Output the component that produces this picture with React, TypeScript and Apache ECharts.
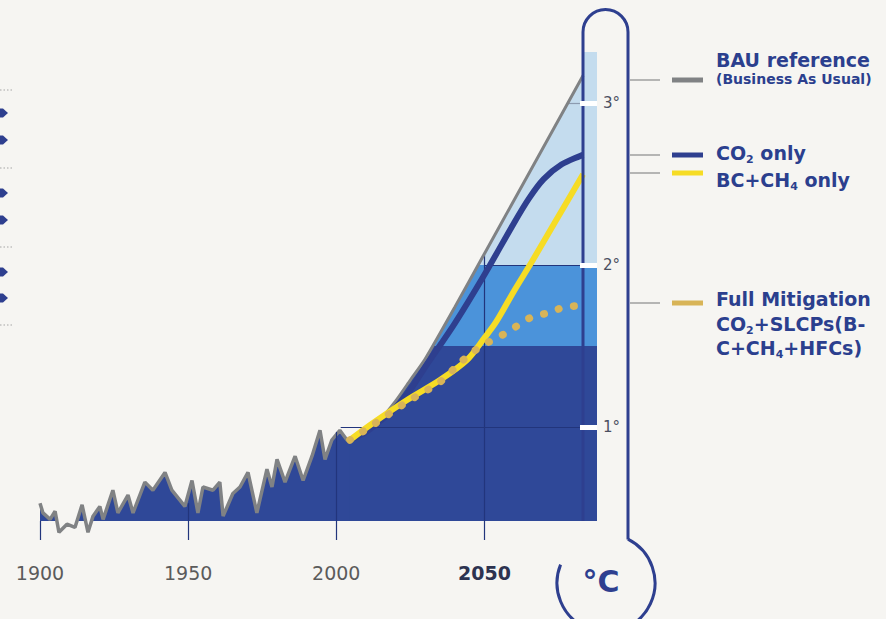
import React, { useEffect, useRef } from "react";
import * as echarts from "echarts";

// ---------- data ----------
const xTickYears = [1900, 1950, 2000, 2050];
const degreeTicks = [1, 2, 3];

const historical: [number, number][] = [
  [1900, 0.53], [1901, 0.47], [1903.4, 0.43], [1905.1, 0.48], [1906.4, 0.35],
  [1909.1, 0.4], [1911.8, 0.38], [1914.2, 0.52], [1916.2, 0.35], [1917.9, 0.45],
  [1920.2, 0.51], [1921.3, 0.43], [1924.6, 0.61], [1926.3, 0.47], [1929.7, 0.58],
  [1931.4, 0.47], [1935.4, 0.66], [1938.1, 0.61], [1942.2, 0.72], [1944.5, 0.61],
  [1948.9, 0.51], [1951.3, 0.67], [1953.3, 0.47], [1955, 0.63], [1958.4, 0.61],
  [1960.7, 0.66], [1961.8, 0.45], [1965.1, 0.59], [1967.5, 0.63], [1970.2, 0.72],
  [1973.2, 0.47], [1976.6, 0.74], [1978.3, 0.63], [1980, 0.8], [1982.7, 0.66],
  [1986.1, 0.82], [1988.8, 0.67], [1991.8, 0.82], [1994.5, 0.98], [1996.2, 0.8],
  [1998.5, 0.92], [2001.2, 0.98], [2003.6, 0.92], [2004.6, 0.92],
];

const bauReference: [number, number][] = [
  [2004.6, 0.92], [2010, 0.98], [2015, 1.05], [2020, 1.16], [2025, 1.29],
  [2030, 1.42], [2040, 1.74], [2050, 2.07], [2060, 2.4], [2070, 2.73], [2083.3, 3.17],
];

const co2Only: [number, number][] = [
  [2004.6, 0.92], [2010, 0.97], [2015, 1.04], [2020, 1.12], [2025, 1.23],
  [2030, 1.37], [2040, 1.64], [2050, 1.94], [2060, 2.26], [2065, 2.41],
  [2070, 2.53], [2076, 2.62], [2083.3, 2.68],
];

const bcCh4Only: [number, number][] = [
  [2004.6, 0.92], [2012.4, 1.025], [2023.9, 1.167], [2035, 1.29], [2044.1, 1.414],
  [2050, 1.55], [2054, 1.65], [2060, 1.84], [2066, 2.02], [2074, 2.27], [2083.3, 2.56],
];

const fullMitigation: [number, number][] = [
  [2004.6, 0.92], [2012.4, 1.013], [2023.9, 1.155], [2035, 1.278], [2041.7, 1.395],
  [2046.1, 1.463], [2050.9, 1.519], [2054.2, 1.55], [2057.9, 1.587], [2062, 1.636],
  [2066, 1.679], [2071.4, 1.704], [2076.2, 1.735], [2082, 1.75],
];

// warming bands (°C) shown in the projection area
const bandLevels = [0.42, 1.5, 2.0, 3.315];
const projectionStart = 2004.6;
const projectionEnd = 2088;

// ---------- styles ----------
const BG = "#f6f5f2";
const DARK = "#2f4898";
const MEDIUM = "#4b93da";
const LIGHT = "#c4dcee";
const NAVY = "#2e3f8f";
const GRID_LINE = "#22357c";
const GRAY = "#808284";
const YELLOW = "#f6dc25";
const GOLD = "#d8b457";
const TEXT_NAVY = "#2b3f8e";
const FONT = "DejaVu Sans";

export default function App() {
  const ref = useRef<HTMLDivElement>(null);

  useEffect(() => {
    if (!ref.current) return;
    const chart = echarts.init(ref.current, undefined, { renderer: "svg" });

    const bandColors = [DARK, MEDIUM, LIGHT];
    const bands = bandColors.map((c, i) => [
      { coord: [projectionStart - 0.7, bandLevels[i]], itemStyle: { color: c } },
      { coord: [projectionEnd, bandLevels[i + 1]] },
    ]);

    // mask above the BAU curve, starting a little before the bands
    const maskData = [[projectionStart - 1.6, bauReference[0][1]], ...bauReference];

    const mk = (x1: number, y1: number, x2: number, y2: number, color = GRID_LINE) => [
      { coord: [x1, y1], lineStyle: { color, width: 1.2, type: "solid" } },
      { coord: [x2, y2] },
    ];

    const legendText = (y: number, text: string, size = 19) => ({
      type: "text",
      x: 716,
      y,
      z: 100,
      style: {
        text,
        fontFamily: FONT,
        fontWeight: "bold",
        fontSize: size,
        fill: TEXT_NAVY,
        align: "left",
        verticalAlign: "middle",
        rich: {
          m: { fontFamily: FONT, fontWeight: "bold", fontSize: size, lineHeight: 24, fill: TEXT_NAVY, color: TEXT_NAVY },
          s: { fontFamily: FONT, fontWeight: "bold", fontSize: 11, lineHeight: 11, verticalAlign: "bottom", fill: TEXT_NAVY, color: TEXT_NAVY },
        },
      },
    });

    const connector = (y: number, color: string) => [
      { type: "line", z: 100, shape: { x1: 630, y1: y, x2: 660, y2: y }, style: { stroke: "#8a8a8a", lineWidth: 1.2 } },
      { type: "rect", z: 100, shape: { x: 672, y: y - 2.5, width: 31, height: 5 }, style: { fill: color } },
    ];

    const arrowYs = [113, 140, 193, 220, 272, 298];
    const dotYs = [90, 168, 247, 325];

    chart.setOption({
      animation: false,
      backgroundColor: BG,
      grid: { left: 40, right: 289, top: 22, bottom: 98, containLabel: false },
      xAxis: {
        type: "value",
        min: 1900,
        max: projectionEnd,
        interval: 50,
        axisLine: { show: false },
        splitLine: { show: false },
        axisTick: { show: true, length: 19, customValues: xTickYears, lineStyle: { color: GRID_LINE, width: 1.2 } },
        axisLabel: {
          customValues: xTickYears,
          showMaxLabel: true,
          margin: 42,
          formatter: (v: number) => (v === 2050 ? "{b|2050}" : "{n|" + v + "}"),
          rich: {
            n: { fontFamily: FONT, fontSize: 19, color: "#5b5b5b" },
            b: { fontFamily: FONT, fontSize: 19, fontWeight: "bold", color: "#2d3350" },
          },
        },
      },
      yAxis: {
        type: "value",
        position: "right",
        min: bandLevels[0],
        max: 3.5,
        z: 110,
        axisLine: { show: false },
        splitLine: { show: false },
        axisTick: { show: true, inside: true, length: 17, customValues: degreeTicks, lineStyle: { color: "#ffffff", width: 5 } },
        axisLabel: {
          customValues: degreeTicks,
          margin: 6,
          formatter: (v: number) => v + "°",
          fontFamily: FONT,
          fontSize: 15,
          color: "#4b4f60",
        },
      },
      series: [
        {
          name: "historical fill",
          type: "line",
          data: historical,
          symbol: "none",
          clip: true,
          z: 1,
          lineStyle: { width: 0 },
          areaStyle: { color: DARK, opacity: 1, origin: "start" },
          markArea: { silent: true, data: bands },
        },
        {
          name: "mask",
          type: "line",
          data: maskData,
          symbol: "none",
          smooth: 0.2,
          z: 2,
          lineStyle: { width: 0 },
          areaStyle: { color: BG, opacity: 1, origin: "end" },
        },
        {
          name: "observed",
          type: "line",
          data: historical,
          symbol: "none",
          clip: false,
          z: 4,
          lineStyle: { color: GRAY, width: 3.5 },
          markLine: {
            silent: true,
            symbol: "none",
            label: { show: false },
            data: [
              mk(1950, bandLevels[0], 1950, 0.53),
              mk(2000, bandLevels[0], 2000, 0.97),
              mk(2050, bandLevels[0], 2050, 2.06),
              mk(2001.5, 1, projectionEnd, 1),
              mk(2050, 2, projectionEnd, 2),
              mk(2078.5, 3, projectionEnd, 3, "#8c9bb0"),
            ],
          },
        },
        {
          name: "BAU reference",
          type: "line",
          data: bauReference,
          symbol: "none",
          smooth: 0.2,
          z: 5,
          lineStyle: { color: GRAY, width: 3 },
        },
        {
          name: "CO2 only",
          type: "line",
          data: co2Only,
          symbol: "none",
          smooth: 0.3,
          z: 6,
          lineStyle: { color: NAVY, width: 6 },
        },
        {
          name: "BC+CH4 only",
          type: "line",
          data: bcCh4Only,
          symbol: "none",
          smooth: 0.3,
          z: 7,
          lineStyle: { color: YELLOW, width: 6 },
        },
        {
          name: "Full Mitigation",
          type: "line",
          data: fullMitigation,
          symbol: "none",
          smooth: 0.3,
          z: 8,
          lineStyle: { color: GOLD, width: 7.5, type: [0.5, 15], cap: "round" },
        },
      ],
      graphic: [
        // thermometer outline
        { type: "arc", z: 100, shape: { cx: 605.5, cy: 32, r: 22.5, startAngle: Math.PI, endAngle: 2 * Math.PI }, style: { stroke: NAVY, lineWidth: 3, fill: "none" } },
        { type: "line", z: 100, shape: { x1: 583, y1: 32, x2: 583, y2: 521 }, style: { stroke: NAVY, lineWidth: 3 } },
        { type: "line", z: 100, shape: { x1: 628, y1: 32, x2: 628, y2: 539.5 }, style: { stroke: NAVY, lineWidth: 3 } },
        { type: "arc", z: 100, shape: { cx: 606, cy: 583, r: 49, startAngle: -1.107, endAngle: 3.526, clockwise: true }, style: { stroke: NAVY, lineWidth: 3, fill: "none" } },
        { type: "text", z: 100, x: 601, y: 581, style: { text: "°C", fontFamily: FONT, fontWeight: "bold", fontSize: 30, fill: NAVY, align: "center", verticalAlign: "middle" } },
        // legend
        ...connector(80, GRAY),
        ...connector(155, NAVY),
        ...connector(173, YELLOW),
        ...connector(303, GOLD),
        legendText(60, "{m|BAU reference}"),
        legendText(79, "{m|(Business As Usual)}", 14),
        legendText(153, "{m|CO}{s|2}{m| only}"),
        legendText(180, "{m|BC+CH}{s|4}{m| only}"),
        legendText(299, "{m|Full Mitigation}"),
        legendText(324, "{m|CO}{s|2}{m|+SLCPs(B-}"),
        legendText(348, "{m|C+CH}{s|4}{m|+HFCs)}"),
        // cropped neighbour panel marks on the left edge
        ...arrowYs.map((y) => ({
          type: "polygon",
          z: 100,
          shape: { points: [[0, y - 4.5], [3, y - 4.5], [8, y], [3, y + 4.5], [0, y + 4.5]] },
          style: { fill: NAVY },
        })),
        ...dotYs.map((y) => ({
          type: "line",
          z: 100,
          shape: { x1: 0, y1: y, x2: 12, y2: y },
          style: { stroke: "#a5a5a5", lineWidth: 1, lineDash: [1.5, 2] },
        })),
      ],
    });

    return () => chart.dispose();
  }, []);

  return (
    <div
      ref={ref}
      style={{ position: "fixed", left: 0, top: 0, width: 886, height: 619, background: BG }}
    />
  );
}
